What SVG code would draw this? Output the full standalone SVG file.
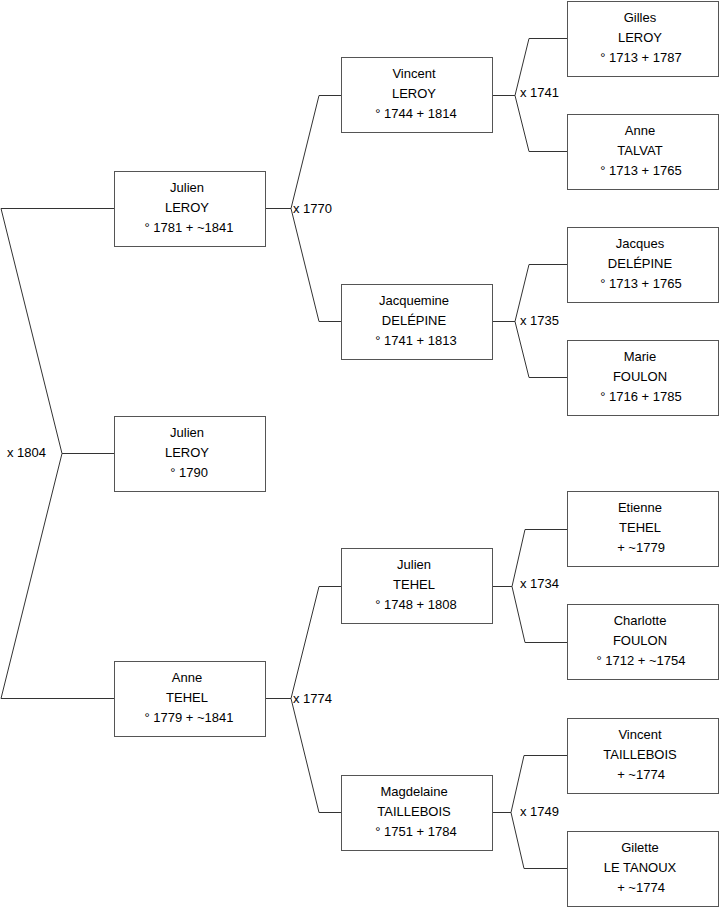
<svg xmlns="http://www.w3.org/2000/svg" width="719" height="908" viewBox="0 0 719 908">
<style>
.box{fill:#fff;stroke:#555;stroke-width:1}
.ln{fill:none;stroke:#333;stroke-width:1}
text{font-family:"Liberation Sans",Arial,sans-serif;font-size:13px;fill:#000}
.c{text-anchor:middle}
</style>
<rect width="719" height="908" fill="#fff"/>
<g id="connectors">
<path class="ln" d="M1,208.5 H114 M1,208.5 L62,453.5 L1,698.5 M62,453.5 H114 M1,698.5 H114"/>
<path class="ln" d="M265,208.5 H291 L319,95.5 H341 M291,208.5 L319,321.5 H341"/>
<path class="ln" d="M265,698.5 H291 L319,586.5 H341 M291,698.5 L319,812.5 H341"/>
<path class="ln" d="M492,95.5 H515 L529,38.5 H567 M515,95.5 L529,151.5 H567"/>
<path class="ln" d="M492,321.5 H515 L529,264.5 H567 M515,321.5 L529,377.5 H567"/>
<path class="ln" d="M492,586.5 H512 L525,529.5 H567 M512,586.5 L525,642.5 H567"/>
<path class="ln" d="M492,812.5 H511 L524,755.5 H567 M511,812.5 L524,868.5 H567"/>
<text x="7" y="456.5">x 1804</text>
<text x="293" y="212.5">x 1770</text>
<text x="293" y="702.5">x 1774</text>
<text x="520" y="97">x 1741</text>
<text x="520" y="324.5">x 1735</text>
<text x="520" y="587.5">x 1734</text>
<text x="520" y="816">x 1749</text>
</g>
<g id="n_julien_leroy_1781">
<rect class="box" x="114.5" y="171.5" width="151" height="75"/>
<text class="c" x="187" y="191.5">Julien</text><text class="c" x="187" y="211.5">LEROY</text><text class="c" x="189" y="231.5">° 1781 + ~1841</text>
</g>
<g id="n_julien_leroy_1790">
<rect class="box" x="114.5" y="416.5" width="151" height="75"/>
<text class="c" x="187" y="436.5">Julien</text><text class="c" x="187" y="456.5">LEROY</text><text class="c" x="189" y="476.5">° 1790</text>
</g>
<g id="n_anne_tehel">
<rect class="box" x="114.5" y="661.5" width="151" height="75"/>
<text class="c" x="187" y="681.5">Anne</text><text class="c" x="187" y="701.5">TEHEL</text><text class="c" x="189" y="721.5">° 1779 + ~1841</text>
</g>
<g id="n_vincent_leroy">
<rect class="box" x="341.5" y="57.5" width="151" height="75"/>
<text class="c" x="414" y="77.5">Vincent</text><text class="c" x="414" y="97.5">LEROY</text><text class="c" x="416" y="117.5">° 1744 + 1814</text>
</g>
<g id="n_jacquemine_delepine">
<rect class="box" x="341.5" y="284.5" width="151" height="75"/>
<text class="c" x="414" y="304.5">Jacquemine</text><text class="c" x="414" y="324.5">DELÉPINE</text><text class="c" x="416" y="344.5">° 1741 + 1813</text>
</g>
<g id="n_julien_tehel">
<rect class="box" x="341.5" y="548.5" width="151" height="75"/>
<text class="c" x="414" y="568.5">Julien</text><text class="c" x="414" y="588.5">TEHEL</text><text class="c" x="416" y="608.5">° 1748 + 1808</text>
</g>
<g id="n_magdelaine_taillebois">
<rect class="box" x="341.5" y="775.5" width="151" height="75"/>
<text class="c" x="414" y="795.5">Magdelaine</text><text class="c" x="414" y="815.5">TAILLEBOIS</text><text class="c" x="416" y="835.5">° 1751 + 1784</text>
</g>
<g id="n_gilles_leroy">
<rect class="box" x="567.5" y="1.5" width="151" height="75"/>
<text class="c" x="640" y="21.5">Gilles</text><text class="c" x="640" y="41.5">LEROY</text><text class="c" x="641" y="61.5">° 1713 + 1787</text>
</g>
<g id="n_anne_talvat">
<rect class="box" x="567.5" y="114.5" width="151" height="75"/>
<text class="c" x="640" y="134.5">Anne</text><text class="c" x="640" y="154.5">TALVAT</text><text class="c" x="641" y="174.5">° 1713 + 1765</text>
</g>
<g id="n_jacques_delepine">
<rect class="box" x="567.5" y="227.5" width="151" height="75"/>
<text class="c" x="640" y="247.5">Jacques</text><text class="c" x="640" y="267.5">DELÉPINE</text><text class="c" x="641" y="287.5">° 1713 + 1765</text>
</g>
<g id="n_marie_foulon">
<rect class="box" x="567.5" y="340.5" width="151" height="75"/>
<text class="c" x="640" y="360.5">Marie</text><text class="c" x="640" y="380.5">FOULON</text><text class="c" x="641" y="400.5">° 1716 + 1785</text>
</g>
<g id="n_etienne_tehel">
<rect class="box" x="567.5" y="491.5" width="151" height="75"/>
<text class="c" x="640" y="511.5">Etienne</text><text class="c" x="640" y="531.5">TEHEL</text><text class="c" x="641" y="551.5">+ ~1779</text>
</g>
<g id="n_charlotte_foulon">
<rect class="box" x="567.5" y="604.5" width="151" height="75"/>
<text class="c" x="640" y="624.5">Charlotte</text><text class="c" x="640" y="644.5">FOULON</text><text class="c" x="641" y="664.5">° 1712 + ~1754</text>
</g>
<g id="n_vincent_taillebois">
<rect class="box" x="567.5" y="718.5" width="151" height="75"/>
<text class="c" x="640" y="738.5">Vincent</text><text class="c" x="640" y="758.5">TAILLEBOIS</text><text class="c" x="641" y="778.5">+ ~1774</text>
</g>
<g id="n_gilette_letanoux">
<rect class="box" x="567.5" y="831.5" width="151" height="75"/>
<text class="c" x="640" y="851.5">Gilette</text><text class="c" x="640" y="871.5">LE TANOUX</text><text class="c" x="641" y="891.5">+ ~1774</text>
</g>
</svg>
